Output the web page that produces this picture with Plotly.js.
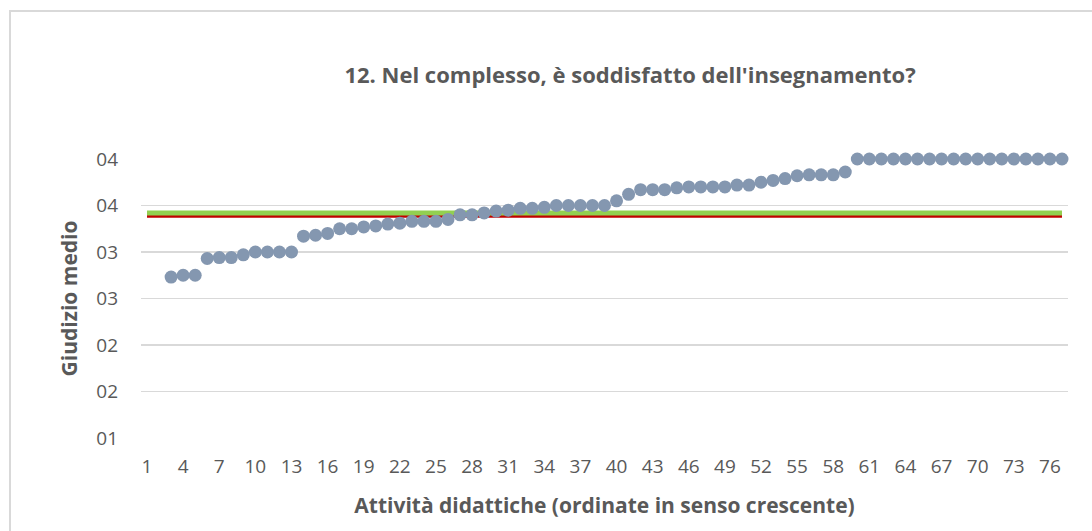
<!DOCTYPE html>
<html>
<head>
<meta charset="utf-8">
<script src="https://cdn.plot.ly/plotly-3.0.1.min.js"></script>
<style>
  html, body { margin: 0; padding: 0; background: #ffffff; }
  #wrap { position: relative; width: 1092px; height: 531px; overflow: hidden; }
  #frame { position: absolute; left: 9px; top: 10px; width: 1200px; height: 700px; border: 2px solid #d9d9d9; box-sizing: border-box; }
  #chart { position: absolute; left: 0; top: 0; width: 1092px; height: 531px; }
</style>
</head>
<body>
<div id="wrap">
  <div id="frame"></div>
  <div id="chart"></div>
</div>
<script>
// Categories (attività didattiche, numbered)
const categories = [1,2,3,4,5,6,7,8,9,10,11,12,13,14,15,16,17,18,19,20,21,22,23,24,25,26,27,28,29,30,31,32,33,34,35,36,37,38,39,40,41,42,43,44,45,46,47,48,49,50,51,52,53,54,55,56,57,58,59,60,61,62,63,64,65,66,67,68,69,70,71,72,73,74,75,76,77];

// Giudizio medio per attività (ordered ascending); first two not shown
const giudizio = [null,null,2.73,2.75,2.75,2.93,2.94,2.94,2.97,3.00,3.00,3.00,3.00,3.17,3.18,3.20,3.25,3.25,3.27,3.28,3.30,3.31,3.33,3.33,3.33,3.35,3.40,3.40,3.42,3.44,3.45,3.47,3.47,3.48,3.50,3.50,3.50,3.50,3.50,3.55,3.62,3.67,3.67,3.67,3.69,3.70,3.70,3.70,3.70,3.72,3.72,3.75,3.77,3.79,3.82,3.83,3.83,3.83,3.86,4.00,4.00,4.00,4.00,4.00,4.00,4.00,4.00,4.00,4.00,4.00,4.00,4.00,4.00,4.00,4.00,4.00,4.00];

// Reference lines (start and end category, value)
const lineEnds = [1, 77];
const mediaRossa = [3.395, 3.395];
const mediaVerde = [3.42, 3.42];

// Axis ticks
const xTickVals = [1,4,7,10,13,16,19,22,25,28,31,34,37,40,43,46,49,52,55,58,61,64,67,70,73,76];
const yTickVals = [1, 1.5, 2, 2.5, 3, 3.5, 4];
const yTickText = ["01","02","02","03","03","04","04"];

const FONT = "'Open Sans', 'Noto Sans', sans-serif";
const TXT = "#595959";

const traces = [
  {
    x: lineEnds, y: mediaRossa, type: "scatter", mode: "lines",
    line: { color: "#c00000", width: 5 }, hoverinfo: "skip", showlegend: false, cliponaxis: false
  },
  {
    x: lineEnds, y: mediaVerde, type: "scatter", mode: "lines",
    line: { color: "#92d050", width: 5 }, hoverinfo: "skip", showlegend: false, cliponaxis: false
  },
  {
    x: categories, y: giudizio, type: "scatter", mode: "markers",
    marker: { color: "#8497b0", size: 13 }, showlegend: false, cliponaxis: false
  }
];

const layout = {
  width: 1092, height: 531,
  margin: { l: 141, r: 24, t: 159, b: 93 },
  paper_bgcolor: "rgba(0,0,0,0)",
  plot_bgcolor: "rgba(0,0,0,0)",
  font: { family: FONT, color: TXT, size: 19 },
  title: {
    text: "<b>12. Nel complesso, è soddisfatto dell'insegnamento?</b>",
    font: { family: FONT, size: 22, color: TXT },
    xref: "container", x: 0.577, xanchor: "center",
    yref: "container", y: 0.859, yanchor: "middle"
  },
  xaxis: {
    range: [0.5, 77.5],
    tickmode: "array", tickvals: xTickVals,
    showgrid: false, zeroline: false,
    showline: false, ticks: "",
    ticklabelstandoff: 15,
    tickfont: { family: FONT, size: 19, color: TXT },
    title: { text: "<b>Attività didattiche (ordinate in senso crescente)</b>", font: { family: FONT, size: 21, color: TXT }, standoff: 20 },
    automargin: false, fixedrange: true
  },
  yaxis: {
    range: [1, 4],
    tickmode: "array", tickvals: yTickVals, ticktext: yTickText,
    showgrid: true, gridcolor: "#d9d9d9", gridwidth: 1.5,
    zeroline: false, showline: false, ticks: "",
    ticklabelstandoff: 22,
    tickfont: { family: FONT, size: 19, color: TXT },
    title: { text: "<b>Giudizio medio</b>", font: { family: FONT, size: 21, color: TXT }, standoff: 12 },
    automargin: false, fixedrange: true
  }
};

Plotly.newPlot("chart", traces, layout, { displayModeBar: false, staticPlot: true });
</script>
</body>
</html>
